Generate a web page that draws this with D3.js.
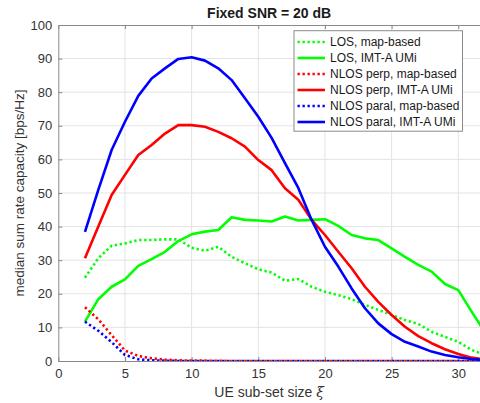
<!DOCTYPE html>
<html>
<head>
<meta charset="utf-8">
<script src="https://cdn.jsdelivr.net/npm/d3@7"></script>
<style>
  body { margin: 0; background: #fff; }
  svg { display: block; font-family: "Liberation Sans", Arial, sans-serif; }
</style>
</head>
<body>
<div id="chart"></div>
<script>
// sub-set sizes (xi) 2..32
const xiValues = [2,3,4,5,6,7,8,9,10,11,12,13,14,15,16,17,18,19,20,21,22,23,24,25,26,27,28,29,30,31,32];

const losMap = [24.8,30.6,34.3,35.0,36.0,36.0,36.2,36.2,33.7,32.8,34.0,31.0,29.1,27.3,26.3,23.9,24.4,22.1,20.6,19.6,18.4,16.7,15.2,13.7,12.2,11.0,8.7,7.2,5.7,3.3,1.8];
const losImt = [11.7,18.4,22.1,24.3,28.3,30.3,32.5,35.7,37.7,38.5,39.0,42.8,42.0,41.8,41.5,43.0,41.8,42.0,42.2,40.2,37.5,36.5,36.0,33.5,31.0,28.6,26.6,22.9,21.1,14.7,8.5];
const perpMap = [16.0,12.4,7.7,3.1,1.5,0.8,0.4,0.2,0.1,0.1,0.05,0,0,0,0,0,0,0,0,0,0,0,0,0,0,0,0,0,0,0,0];
const perpImt = [30.6,40.0,49.4,55.4,61.3,64.3,67.7,70.2,70.2,69.7,68.2,66.3,63.8,59.8,56.8,51.4,48.0,42.0,37.5,32.5,27.6,22.1,17.6,13.7,10.2,7.4,5.3,3.5,2.1,1.0,0.5];
const paralMap = [11.7,9.0,5.6,1.8,0.5,0.2,0.1,0,0,0,0,0,0,0,0,0,0,0,0,0,0,0,0,0,0,0,0,0,0,0,0];
const paralImt = [38.4,50.9,62.8,71.2,78.9,84.1,87.1,89.9,90.4,89.4,87.1,83.6,78.2,72.7,66.4,58.9,51.5,42.0,34.0,28.1,21.6,15.7,11.2,8.0,5.7,4.3,2.8,1.8,1.1,0.6,0.3];

const seriesNames = ['LOS, map-based','LOS, IMT-A UMi','NLOS perp, map-based','NLOS perp, IMT-A UMi','NLOS paral, map-based','NLOS paral, IMT-A UMi'];
const seriesValues = [losMap, losImt, perpMap, perpImt, paralMap, paralImt];
const seriesColors = ['#00ff00','#00ff00','#ff0000','#ff0000','#0000ff','#0000ff'];
const seriesDotted = [true,false,true,false,true,false];

const xTicks = [0,5,10,15,20,25,30];
const yTicks = [0,10,20,30,40,50,60,70,80,90,100];

const W = 480, H = 403;
const mLeft = 58.3, mTop = 25, mBottom = 361;

const svg = d3.select('#chart').append('svg').attr('width', W).attr('height', H);

const x = d3.scaleLinear().domain([0, 32]).range([mLeft, mLeft + 32 * 13.333]);
const y = d3.scaleLinear().domain([0, 100]).range([mBottom, mTop]);
const mRight = x(32);

svg.append('defs').append('clipPath').attr('id', 'plotclip')
  .append('rect').attr('x', mLeft).attr('y', mTop).attr('width', mRight - mLeft).attr('height', mBottom - mTop);

// grid
const grid = svg.append('g');
grid.selectAll('.gx').data(xTicks.filter(d => d > 0)).enter().append('line')
  .attr('x1', d => x(d)).attr('x2', d => x(d)).attr('y1', mTop).attr('y2', mBottom)
  .style('stroke', '#e3e3e3').style('stroke-width', 1);
grid.selectAll('.gy').data(yTicks.filter(d => d > 0 && d < 100)).enter().append('line')
  .attr('x1', mLeft).attr('x2', mRight).attr('y1', d => y(d)).attr('y2', d => y(d))
  .style('stroke', '#e3e3e3').style('stroke-width', 1);

// axes (MATLAB style: inward ticks, box)
const xAxisG = svg.append('g').attr('transform', `translate(0,${mBottom})`)
  .call(d3.axisBottom(x).tickValues(xTicks).tickSize(-4).tickPadding(8));
const xTopG = svg.append('g').attr('transform', `translate(0,${mTop})`)
  .call(d3.axisTop(x).tickValues(xTicks).tickSize(-4).tickFormat(''));
const yAxisG = svg.append('g').attr('transform', `translate(${mLeft},0)`)
  .call(d3.axisLeft(y).tickValues(yTicks).tickSize(-4).tickPadding(6));
const yRightG = svg.append('g').attr('transform', `translate(${mRight},0)`)
  .call(d3.axisRight(y).tickValues(yTicks).tickSize(-4).tickFormat(''));

[xAxisG, xTopG, yAxisG, yRightG].forEach(g => {
  g.select('.domain').style('stroke', '#8a8a8a').attr('stroke-width', 1);
  g.selectAll('line').style('stroke', '#8a8a8a');
  g.selectAll('text').style('font-size', '13px').style('fill', '#333')
    .style('font-family', '"Liberation Sans", Arial, sans-serif');
});
xTopG.selectAll('.tick').filter(d => d === 0).remove();
xAxisG.selectAll('.tick line').filter(d => d === 0).remove();

// lines
const line = d3.line().x((d, i) => x(xiValues[i])).y(d => y(d));
const plot = svg.append('g').attr('clip-path', 'url(#plotclip)');
seriesValues.forEach((vals, i) => {
  plot.append('path')
    .datum(vals)
    .attr('d', line)
    .style('fill', 'none')
    .style('stroke', seriesColors[i])
    .style('stroke-width', 2.6)
    .style('stroke-linejoin', 'round')
    .style('stroke-dasharray', seriesDotted[i] ? '2.3,2.7' : null);
});

// legend
const lg = svg.append('g').attr('transform', 'translate(294,30.7)');
lg.append('rect').attr('width', 168.5).attr('height', 100.5)
  .style('fill', '#fff').style('stroke', '#8a8a8a').style('stroke-width', 1);
seriesNames.forEach((name, i) => {
  const ry = 11.3 + i * 16;
  lg.append('line').attr('x1', 3.5).attr('x2', 31).attr('y1', ry).attr('y2', ry)
    .style('stroke', seriesColors[i]).style('stroke-width', 2.6)
    .style('stroke-dasharray', seriesDotted[i] ? '2.3,2.7' : null);
  lg.append('text').attr('x', 36).attr('y', ry + 4.3).text(name)
    .style('font-size', '12px').style('fill', '#1a1a1a');
});

// title and labels
svg.append('text').attr('x', (mLeft + 480) / 2).attr('y', 18).attr('text-anchor', 'middle')
  .style('font-size', '14px').style('font-weight', 'bold').style('fill', '#1a1a1a')
  .text('Fixed SNR = 20 dB');

const xl = svg.append('text').attr('x', (mLeft + 480) / 2).attr('y', 397).attr('text-anchor', 'middle')
  .style('font-size', '14px').style('fill', '#333');
xl.append('tspan').text('UE sub-set size ');
xl.append('tspan').style('font-style', 'italic').style('font-family', '"DejaVu Serif", serif').text('ξ');

svg.append('text').attr('transform', `translate(24,${(mTop + mBottom) / 2}) rotate(-90)`)
  .attr('text-anchor', 'middle').style('font-size', '13.5px').style('fill', '#333')
  .text('median sum rate capacity [bps/Hz]');
</script>
</body>
</html>
